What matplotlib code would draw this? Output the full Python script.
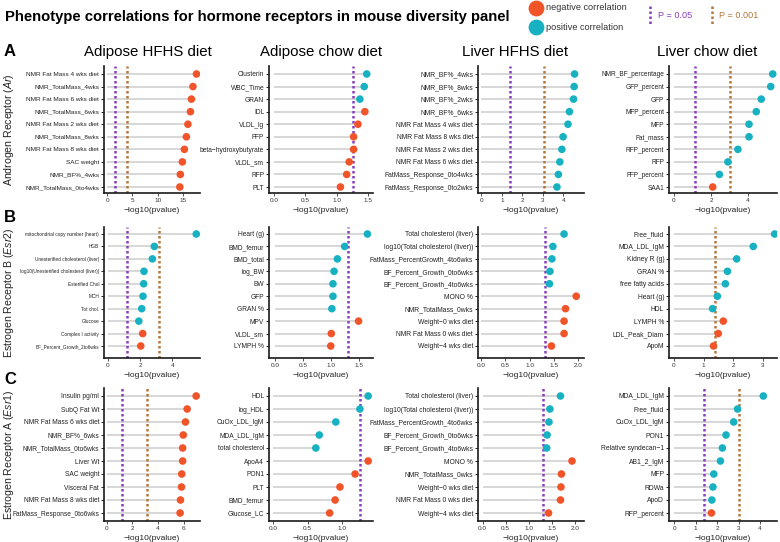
import matplotlib
matplotlib.use('Agg')
import matplotlib.pyplot as plt
from matplotlib.ticker import FormatStrFormatter

# ---------------- data ----------------
# row A: Androgen receptor (Ar)
ar_adipose_hfhs_traits = ['NMR Fat Mass 4 wks diet', 'NMR_TotalMass_4wks', 'NMR Fat Mass 6 wks diet',
                          'NMR_TotalMass_6wks', 'NMR Fat Mass 2 wks diet', 'NMR_TotalMass_8wks',
                          'NMR Fat Mass 8 wks diet', 'SAC weight', 'NMR_BF%_4wks', 'NMR_TotalMass_0to4wks']
ar_adipose_hfhs_logp = [17.7, 17.0, 16.7, 16.5, 16.0, 15.7, 15.3, 14.9, 14.5, 14.4]
ar_adipose_hfhs_dir = ['-', '-', '-', '-', '-', '-', '-', '-', '-', '-']

ar_adipose_chow_traits = ['Clusterin', 'WBC_Time', 'GRAN', 'IDL', 'VLDL_lg', 'FFP',
                          'beta\u2212hydroxybutyrate', 'VLDL_sm', 'RFP', 'PLT']
ar_adipose_chow_logp = [1.48, 1.44, 1.37, 1.45, 1.34, 1.27, 1.27, 1.20, 1.16, 1.06]
ar_adipose_chow_dir = ['+', '+', '+', '-', '-', '-', '-', '-', '-', '-']

ar_liver_hfhs_traits = ['NMR_BF%_4wks', 'NMR_BF%_8wks', 'NMR_BF%_2wks', 'NMR_BF%_6wks',
                        'NMR Fat Mass 4 wks diet', 'NMR Fat Mass 8 wks diet', 'NMR Fat Mass 2 wks diet',
                        'NMR Fat Mass 6 wks diet', 'FatMass_Response_0to4wks', 'FatMass_Response_0to2wks']
ar_liver_hfhs_logp = [4.54, 4.52, 4.49, 4.29, 4.22, 3.98, 3.92, 3.82, 3.75, 3.68]
ar_liver_hfhs_dir = ['+', '+', '+', '+', '+', '+', '+', '+', '+', '+']

ar_liver_chow_traits = ['NMR_BF_percentage', 'GFP_percent', 'GFP', 'MFP_percent', 'MFP', 'Fat_mass',
                        'RFP_percent', 'RFP', 'FFP_percent', 'SAA1']
ar_liver_chow_logp = [5.33, 5.22, 4.71, 4.44, 4.05, 4.05, 3.45, 2.91, 2.45, 2.09]
ar_liver_chow_dir = ['+', '+', '+', '+', '+', '+', '+', '+', '+', '-']

# row B: Estrogen receptor B (Esr2)
esr2_adipose_hfhs_traits = ['mitochondrial copy number (heart)', 'HGB', 'Unesterified cholesterol (liver)',
                            'log10(Unesterified cholesterol (liver))', 'Esterified Chol', 'MCH', 'Tot chol.',
                            'Glucose', 'Complex I activity', 'BF_Percent_Growth_2to6wks']
esr2_adipose_hfhs_logp = [5.47, 2.88, 2.76, 2.24, 2.22, 2.18, 2.10, 1.92, 2.16, 2.04]
esr2_adipose_hfhs_dir = ['+', '+', '+', '+', '+', '+', '+', '+', '-', '-']

esr2_adipose_chow_traits = ['Heart (g)', 'BMD_femur', 'BMD_total', 'log_BW', 'BW', 'GFP', 'GRAN %',
                            'MPV', 'VLDL_sm', 'LYMPH %']
esr2_adipose_chow_logp = [1.66, 1.25, 1.12, 1.06, 1.04, 1.04, 1.02, 1.50, 1.01, 1.00]
esr2_adipose_chow_dir = ['+', '+', '+', '+', '+', '+', '+', '-', '-', '-']

esr2_liver_hfhs_traits = ['Total cholesterol (liver)', 'log10(Total cholesterol (liver))',
                          'FatMass_PercentGrowth_4to6wks', 'BF_Percent_Growth_0to6wks',
                          'BF_Percent_Growth_4to6wks', 'MONO %', 'NMR_TotalMass_0wks',
                          'Weight\u22120 wks diet', 'NMR Fat Mass 0 wks diet', 'Weight\u22124 wks diet']
esr2_liver_hfhs_logp = [1.71, 1.48, 1.46, 1.42, 1.41, 1.96, 1.74, 1.71, 1.71, 1.45]
esr2_liver_hfhs_dir = ['+', '+', '+', '+', '+', '-', '-', '-', '-', '-']

esr2_liver_chow_traits = ['Free_fluid', 'MDA_LDL_IgM', 'Kidney R (g)', 'GRAN %', 'free fatty acids',
                          'Heart (g)', 'HDL', 'LYMPH %', 'LDL_Peak_Diam', 'ApoM']
esr2_liver_chow_logp = [3.39, 2.67, 2.11, 1.80, 1.73, 1.46, 1.30, 1.66, 1.49, 1.33]
esr2_liver_chow_dir = ['+', '+', '+', '+', '+', '+', '+', '-', '-', '-']

# row C: Estrogen receptor A (Esr1)
esr1_adipose_hfhs_traits = ['Insulin pg/ml', 'SubQ Fat Wt', 'NMR Fat Mass 6 wks diet', 'NMR_BF%_6wks',
                            'NMR_TotalMass_0to6wks', 'Liver Wt', 'SAC weight', 'Visceral Fat',
                            'NMR Fat Mass 8 wks diet', 'FatMass_Response_0to6wks']
esr1_adipose_hfhs_logp = [6.97, 6.27, 6.14, 5.97, 5.92, 5.92, 5.85, 5.83, 5.75, 5.72]
esr1_adipose_hfhs_dir = ['-', '-', '-', '-', '-', '-', '-', '-', '-', '-']

esr1_adipose_chow_traits = ['HDL', 'log_HDL', 'CuOx_LDL_IgM', 'MDA_LDL_IgM', 'total cholesterol',
                            'ApoA4', 'PON1', 'PLT', 'BMD_femur', 'Glucose_LC']
esr1_adipose_chow_logp = [1.38, 1.26, 0.91, 0.67, 0.62, 1.38, 1.19, 0.97, 0.90, 0.82]
esr1_adipose_chow_dir = ['+', '+', '+', '+', '+', '-', '-', '-', '-', '-']

esr1_liver_hfhs_traits = ['Total cholesterol (liver)', 'log10(Total cholesterol (liver))',
                          'FatMass_PercentGrowth_4to6wks', 'BF_Percent_Growth_0to6wks',
                          'BF_Percent_Growth_4to6wks', 'MONO %', 'NMR_TotalMass_0wks',
                          'Weight\u22120 wks diet', 'NMR Fat Mass 0 wks diet', 'Weight\u22124 wks diet']
esr1_liver_hfhs_logp = [1.69, 1.46, 1.44, 1.40, 1.39, 1.94, 1.71, 1.70, 1.69, 1.43]
esr1_liver_hfhs_dir = ['+', '+', '+', '+', '+', '-', '-', '-', '-', '-']

esr1_liver_chow_traits = ['MDA_LDL_IgM', 'Free_fluid', 'CuOx_LDL_IgM', 'PON1', 'Relative syndecan\u22121',
                          'AB1_2_IgM', 'MFP', 'RDWa', 'ApoD', 'RFP_percent']
esr1_liver_chow_logp = [4.15, 2.95, 2.77, 2.41, 2.24, 2.15, 1.84, 1.80, 1.75, 1.73]
esr1_liver_chow_dir = ['+', '+', '+', '+', '+', '+', '+', '+', '+', '-']

# significance lines drawn in each panel (P = 0.05 / P = 0.001), None = not shown
p05_lines = [[1.53, 1.26, 1.38, 1.15],
             [1.18, 1.31, 1.31, None],
             [1.19, 1.26, 1.30, 1.37]]
p001_lines = [[3.85, None, 3.05, 3.04],
              [3.14, None, None, 1.38],
              [3.16, None, None, 3.00]]

col_titles = ['Adipose HFHS diet', 'Adipose chow diet', 'Liver HFHS diet', 'Liver chow diet']
row_letters = ['A', 'B', 'C']
row_genes = [('Androgen Receptor', 'Ar'), ('Estrogen Receptor B', 'Esr2'), ('Estrogen Receptor A', 'Esr1')]

panels = [
    [(ar_adipose_hfhs_traits, ar_adipose_hfhs_logp, ar_adipose_hfhs_dir),
     (ar_adipose_chow_traits, ar_adipose_chow_logp, ar_adipose_chow_dir),
     (ar_liver_hfhs_traits, ar_liver_hfhs_logp, ar_liver_hfhs_dir),
     (ar_liver_chow_traits, ar_liver_chow_logp, ar_liver_chow_dir)],
    [(esr2_adipose_hfhs_traits, esr2_adipose_hfhs_logp, esr2_adipose_hfhs_dir),
     (esr2_adipose_chow_traits, esr2_adipose_chow_logp, esr2_adipose_chow_dir),
     (esr2_liver_hfhs_traits, esr2_liver_hfhs_logp, esr2_liver_hfhs_dir),
     (esr2_liver_chow_traits, esr2_liver_chow_logp, esr2_liver_chow_dir)],
    [(esr1_adipose_hfhs_traits, esr1_adipose_hfhs_logp, esr1_adipose_hfhs_dir),
     (esr1_adipose_chow_traits, esr1_adipose_chow_logp, esr1_adipose_chow_dir),
     (esr1_liver_hfhs_traits, esr1_liver_hfhs_logp, esr1_liver_hfhs_dir),
     (esr1_liver_chow_traits, esr1_liver_chow_logp, esr1_liver_chow_dir)],
]

# ---------------- layout / style ----------------
W, H = 780, 542
NEG = '#F2542A'
POS = '#17B1C2'
SEG = '#D4D4D4'
PURPLE = '#8B3DBF'
BROWN = '#B5773A'
DOTS = (0, (1, 1))

col_px = [(104, 200), (269, 373), (478, 584), (669, 777)]
# top, bottom, first item centre, last item centre
row_px = [(66, 193, 74, 187), (227, 358, 234, 346), (388, 521, 396, 513)]
xlims = [[(-0.65, 18.4), (-0.08, 1.58), (-0.17, 5.0), (-0.27, 5.56)],
         [(-0.23, 5.7), (-0.11, 1.76), (-0.06, 2.12), (-0.17, 3.47)],
         [(-0.2, 7.27), (-0.06, 1.45), (-0.1, 2.2), (-0.25, 4.79)]]
xticks = [[[0, 5, 10, 15], [0, 0.5, 1.0, 1.5], [0, 1, 2, 3, 4], [0, 2, 4]],
          [[0, 2, 4], [0, 0.5, 1.0, 1.5], [0, 0.5, 1.0, 1.5, 2.0], [0, 1, 2, 3]],
          [[0, 2, 4, 6], [0, 0.5, 1.0], [0, 0.5, 1.0, 1.5, 2.0], [0, 1, 2, 3, 4]]]
title_cx = [148, 321, 515, 707]
lab_sizes = [[4.6, 4.8, 4.9, 4.7],
             [3.4, 4.8, 4.9, 4.9],
             [4.75, 4.8, 4.9, 4.9]]

base = 'Liberation Sans'
plt.rcParams['font.family'] = [base, 'DejaVu Sans']
plt.rcParams['mathtext.fontset'] = 'custom'
plt.rcParams['mathtext.rm'] = base
plt.rcParams['mathtext.it'] = base + ':italic'


def fig_rect(left, top, right, bottom):
    return [left / W, 1 - bottom / H, (right - left) / W, (bottom - top) / H]


def lollipop(ax, traits, logp, direction, p05, p001, label_size):
    y = list(range(len(traits)))
    colors = [NEG if d == '-' else POS for d in direction]
    ax.hlines(y, 0, logp, color=SEG, lw=1.3, zorder=1)
    if p05 is not None:
        ax.axvline(p05, color=PURPLE, lw=1.8, ls=DOTS, zorder=2)
    if p001 is not None:
        ax.axvline(p001, color=BROWN, lw=1.8, ls=DOTS, zorder=2)
    ax.scatter(logp, y, s=30, c=colors, linewidths=0, zorder=3)
    ax.set_yticks(y)
    ax.set_yticklabels(traits, color='#222222', fontsize=label_size)


fig = plt.figure(figsize=(W / 100, H / 100), dpi=100)

for r in range(3):
    top, bottom, first, last = row_px[r]
    step = (last - first) / 9
    for c in range(4):
        left, right = col_px[c]
        ax = fig.add_axes(fig_rect(left, top, right, bottom))
        traits, logp, direction = panels[r][c]
        lollipop(ax, traits, logp, direction, p05_lines[r][c], p001_lines[r][c], lab_sizes[r][c])
        ax.set_ylim(9 + (bottom - last) / step, -(first - top) / step)
        ax.set_xlim(*xlims[r][c])
        ax.set_xticks(xticks[r][c])
        if any(isinstance(t, float) for t in xticks[r][c]):
            ax.xaxis.set_major_formatter(FormatStrFormatter('%.1f'))
        ax.tick_params(axis='x', labelsize=4.6, length=2, width=0.6, pad=1.5, colors='#333333')
        ax.tick_params(axis='y', length=2, width=0.6, pad=1.5)
        for s in ['top', 'right']:
            ax.spines[s].set_visible(False)
        for s in ['left', 'bottom']:
            ax.spines[s].set_linewidth(1.2)
            ax.spines[s].set_color('#1a1a1a')
        ax.set_xlabel('\u2212log10(pvalue)', fontsize=6, labelpad=3, color='#222222')

# column titles
for c in range(4):
    fig.text(title_cx[c] / W, 1 - 52 / H, col_titles[c], ha='center', va='center', fontsize=10.8)

# row letters and gene labels
letter_y = [52, 218, 380]
for r in range(3):
    fig.text(4 / W, 1 - letter_y[r] / H, row_letters[r], fontweight='bold', fontsize=12,
             ha='left', va='center')
    top, bottom = row_px[r][0], row_px[r][1]
    name, gene = row_genes[r]
    fig.text(9 / W, 1 - (top + bottom) / 2 / H, name + ' ($\\mathit{' + gene + '}$)',
             rotation=90, ha='center', va='center', fontsize=7.6, color='#222222')

# title
fig.text(5 / W, 1 - 17 / H, 'Phenotype correlations for hormone receptors in mouse diversity panel',
         fontweight='bold', fontsize=10.7, ha='left', va='center')

# legend drawn in pixel coordinates
ov = fig.add_axes([0, 0, 1, 1], zorder=-1)
ov.set_xlim(0, W)
ov.set_ylim(H, 0)
ov.axis('off')
ov.scatter([536], [8], s=130, c=NEG, linewidths=0)
ov.scatter([536], [27], s=130, c=POS, linewidths=0)
ov.text(546, 7, 'negative correlation', fontsize=6.6, va='center', color='#333333')
ov.text(546, 27, 'positive correlation', fontsize=6.6, va='center', color='#333333')
ov.plot([650, 650], [6, 25], color=PURPLE, lw=1.8, ls=DOTS)
ov.text(658, 15, 'P = 0.05', fontsize=6.6, va='center', color=PURPLE)
ov.plot([712, 712], [6, 25], color=BROWN, lw=1.8, ls=DOTS)
ov.text(719, 15, 'P = 0.001', fontsize=6.6, va='center', color=BROWN)

fig.savefig('out.png', dpi=100)
